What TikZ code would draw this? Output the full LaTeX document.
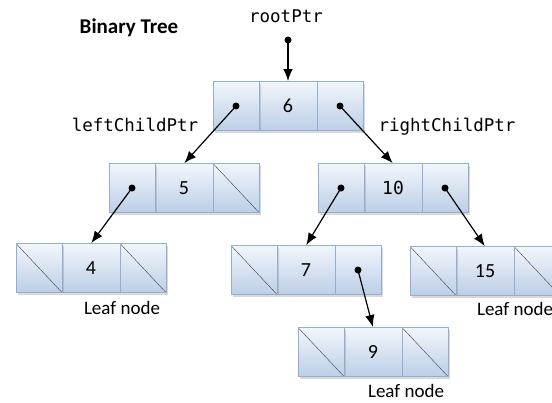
\documentclass[tikz,border=0pt]{standalone}
\usepackage{fontspec}
\setmainfont{Carlito}
\setmonofont{DejaVu Sans Mono}
\usepackage{tikz}
\usetikzlibrary{arrows.meta,positioning,shadows}

\definecolor{cellline}{RGB}{150,174,206}
\definecolor{celltop}{RGB}{242,246,251}
\definecolor{cellbot}{RGB}{188,206,231}

\begin{document}
\begin{tikzpicture}[x=1pt,y=1pt,>={Latex[length=12pt,width=9.5pt]},
  cell/.style={rectangle,draw=cellline,top color=celltop,bottom color=cellbot,
    minimum width=46pt,minimum height=49pt,inner sep=0pt,outer sep=0pt,
    drop shadow={shadow xshift=1.5pt,shadow yshift=-2pt,opacity=.3},
    font=\fontsize{20}{22}\selectfont},
  mid cell/.style={cell,minimum width=58pt},
  null cell/.style={cell,path picture={\draw[black!75] (path picture bounding box.north west)
      -- (path picture bounding box.south east);}},
  ptr cell/.style={cell,path picture={\fill[black] (path picture bounding box.center) circle (3.5pt);}},
  ptr/.style={->,line width=1.2pt,shorten >=0.5pt},
  ptr label/.style={anchor=base,font=\ttfamily\fontsize{17.5}{20}\selectfont},
  leaf label/.style={anchor=base,font=\fontsize{19}{22}\selectfont}]

  \useasboundingbox (0,0) rectangle (552,-402);

  \node[anchor=base,font=\bfseries\fontsize{21}{24}\selectfont] (title) at (129,-33) {Binary Tree};

  % root pointer
  \node[ptr label] (rootlbl) at (286,-22) {rootPtr};
  \coordinate (root) at (288,-40);
  \fill (root) circle (3.5pt);

  % level 0
  \node[mid cell] (m6) at (288,-106) {6};
  \node[ptr cell] (l6) [left=0pt of m6] {};
  \node[ptr cell] (r6) [right=0pt of m6] {};

  % level 1
  \node[mid cell] (m5) at (184,-188) {5};
  \node[ptr cell] (l5) [left=0pt of m5] {};
  \node[null cell] (r5) [right=0pt of m5] {};

  \node[mid cell] (m10) at (393,-188) {\ttfamily\fontsize{18}{20}\selectfont 10};
  \node[ptr cell] (l10) [left=0pt of m10] {};
  \node[ptr cell] (r10) [right=0pt of m10] {};

  % level 2
  \node[mid cell] (m4) at (91,-268) {4};
  \node[null cell] (l4) [left=0pt of m4] {};
  \node[null cell] (r4) [right=0pt of m4] {};

  \node[mid cell] (m7) at (306,-270) {7};
  \node[null cell] (l7) [left=0pt of m7] {};
  \node[ptr cell] (r7) [right=0pt of m7] {};

  \node[mid cell] (m15) at (485,-271) {15};
  \node[null cell] (l15) [left=0pt of m15] {};
  \node[null cell] (r15) [right=0pt of m15] {};

  % level 3
  \node[mid cell] (m9) at (373,-352) {9};
  \node[null cell] (l9) [left=0pt of m9] {};
  \node[null cell] (r9) [right=0pt of m9] {};

  \node[ptr label] (leftlbl) at (135,-131) {leftChildPtr};
  \node[ptr label] (rightlbl) at (447,-131) {rightChildPtr};

  \node[leaf label] (leaf4) at (122,-314) {Leaf node};
  \node[leaf label] (leaf15) at (515,-315) {Leaf node};
  \node[leaf label] (leaf9) at (406,-397) {Leaf node};

  \path[ptr]
  (root) edge (m6.north)
  (l6.center) edge (m5.north)
  (r6.center) edge (m10.north)
  (l5.center) edge (m4.north)
  (l10.center) edge (m7.north)
  (r10.center) edge (m15.north)
  (r7.center) edge (m9.north);
\end{tikzpicture}
\end{document}
